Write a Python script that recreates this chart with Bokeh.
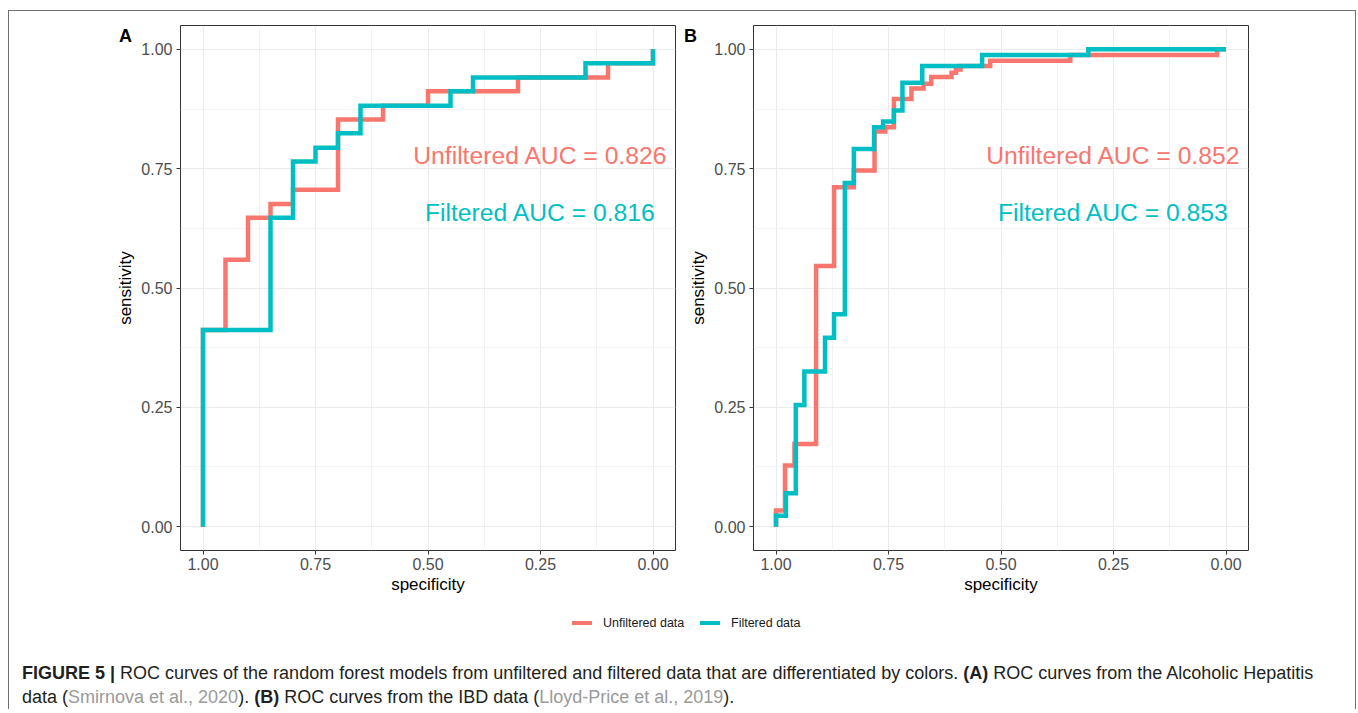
from bokeh.plotting import figure
from bokeh.models import Range1d, FixedTicker, PrintfTickFormatter, Label, Div
from bokeh.layouts import column, row
from bokeh.embed import file_html
from bokeh.resources import INLINE

RED = "#F8766D"
CYAN = "#00BFC4"
FONT = "Liberation Sans"

TICKS = [0.0, 0.25, 0.5, 0.75, 1.0]
MINOR = [0.125, 0.375, 0.625, 0.875]

# Panel A (Alcoholic Hepatitis) ROC coordinates
A_UNF_SPEC = [1.00, 1.00, 0.95, 0.95, 0.90, 0.90, 0.85, 0.85, 0.80, 0.80, 0.70, 0.70,
              0.60, 0.60, 0.50, 0.50, 0.30, 0.30, 0.10, 0.10, 0.00, 0.00]
A_UNF_SENS = [0.000, 0.412, 0.412, 0.559, 0.559, 0.647, 0.647, 0.676, 0.676, 0.706, 0.706, 0.853,
              0.853, 0.882, 0.882, 0.912, 0.912, 0.941, 0.941, 0.971, 0.971, 1.000]
A_FIL_SPEC = [1.00, 1.00, 0.85, 0.85, 0.80, 0.80, 0.75, 0.75, 0.70, 0.70,
              0.65, 0.65, 0.45, 0.45, 0.40, 0.40, 0.15, 0.15, 0.00, 0.00]
A_FIL_SENS = [0.000, 0.412, 0.412, 0.647, 0.647, 0.765, 0.765, 0.794, 0.794, 0.824,
              0.824, 0.882, 0.882, 0.912, 0.912, 0.941, 0.941, 0.971, 0.971, 1.000]

# Panel B (IBD) ROC coordinates
B_UNF_SPEC = [1.000, 1.000, 0.980, 0.980, 0.959, 0.959, 0.911, 0.911, 0.871, 0.871,
              0.827, 0.827, 0.781, 0.781, 0.757, 0.757, 0.738, 0.738, 0.699, 0.699,
              0.672, 0.672, 0.655, 0.655, 0.610, 0.610, 0.600, 0.600, 0.590, 0.590,
              0.524, 0.524, 0.346, 0.346, 0.020, 0.020, 0.000]
B_UNF_SENS = [0.000, 0.034, 0.034, 0.128, 0.128, 0.173, 0.173, 0.546, 0.546, 0.711,
              0.711, 0.746, 0.746, 0.828, 0.828, 0.837, 0.837, 0.896, 0.896, 0.918,
              0.918, 0.928, 0.928, 0.942, 0.942, 0.951, 0.951, 0.958, 0.958, 0.965,
              0.965, 0.976, 0.976, 0.988, 0.988, 1.000, 1.000]
B_FIL_SPEC = [1.000, 1.000, 0.978, 0.978, 0.956, 0.956, 0.937, 0.937, 0.891, 0.891,
              0.871, 0.871, 0.847, 0.847, 0.827, 0.827, 0.782, 0.782, 0.762, 0.762,
              0.738, 0.738, 0.719, 0.719, 0.675, 0.675, 0.542, 0.542, 0.306, 0.306, 0.000]
B_FIL_SENS = [0.000, 0.023, 0.023, 0.070, 0.070, 0.255, 0.255, 0.325, 0.325, 0.396,
              0.396, 0.445, 0.445, 0.720, 0.720, 0.791, 0.791, 0.837, 0.837, 0.849,
              0.849, 0.872, 0.872, 0.930, 0.930, 0.965, 0.965, 0.988, 0.988, 1.000, 1.000]

AUC_A = ["0.826", "0.816"]
AUC_B = ["0.852", "0.853"]
SERIES = ["Unfiltered data", "Filtered data"]
PANELS = ["A", "B"]


def make_panel(unf_spec, unf_sens, fil_spec, fil_sens, aucs, width, left, right):
    p = figure(width=width, height=587,
               x_range=Range1d(1.05, -0.05), y_range=Range1d(-0.05, 1.05),
               output_backend="svg", toolbar_location=None,
               min_border_left=left, min_border_right=right,
               min_border_top=14, min_border_bottom=48)
    p.background_fill_color = "white"
    p.border_fill_color = "white"
    p.outline_line_color = "#333333"
    p.outline_line_width = 1

    for ax in (p.xaxis[0], p.yaxis[0]):
        ax.ticker = FixedTicker(ticks=TICKS, minor_ticks=MINOR)
        ax.formatter = PrintfTickFormatter(format="%.2f")
        ax.axis_line_color = None
        ax.major_tick_line_color = "#333333"
        ax.major_tick_out = 4
        ax.major_tick_in = 0
        ax.minor_tick_line_color = None
        ax.major_label_text_font = FONT
        ax.major_label_text_font_size = "16px"
        ax.major_label_text_color = "#4D4D4D"
        ax.axis_label_text_font = FONT
        ax.axis_label_text_font_size = "17px"
        ax.axis_label_text_font_style = "normal"
        ax.axis_label_text_color = "black"
    p.xaxis.axis_label = "specificity"
    p.yaxis.axis_label = "sensitivity"
    p.xaxis.major_label_standoff = 3
    p.xaxis.axis_label_standoff = 2
    p.yaxis.major_label_standoff = 4
    p.yaxis.axis_label_standoff = 3

    for g in (p.xgrid[0], p.ygrid[0]):
        g.grid_line_color = "#EBEBEB"
        g.grid_line_width = 1.1
        g.minor_grid_line_color = "#F3F3F3"
        g.minor_grid_line_width = 1

    p.line(unf_spec, unf_sens, line_color=RED, line_width=4.5, line_join="miter")
    p.line(fil_spec, fil_sens, line_color=CYAN, line_width=4.5, line_join="miter")

    p.add_layout(Label(x=0.25, y=0.777, text="Unfiltered AUC = " + aucs[0],
                       text_font=FONT, text_font_size="24.7px", text_color=RED,
                       text_align="center", text_baseline="middle"))
    p.add_layout(Label(x=0.25, y=0.658, text="Filtered AUC = " + aucs[1],
                       text_font=FONT, text_font_size="24.7px", text_color=CYAN,
                       text_align="center", text_baseline="middle"))
    return p


pA = make_panel(A_UNF_SPEC, A_UNF_SENS, A_FIL_SPEC, A_FIL_SENS, AUC_A, 671, 171, 5)
pB = make_panel(B_UNF_SPEC, B_UNF_SENS, B_FIL_SPEC, B_FIL_SENS, AUC_B, 675, 73, 107)

letter_style = ("position:absolute;top:-571px;font-size:18px;line-height:18px;font-weight:bold;"
                "color:#000;z-index:10;")
legend_html = (
    '<div style="position:relative;width:1346px;height:45px;font-family:\'Liberation Sans\',Arial;'
    'font-size:12.5px;color:#1a1a1a;overflow:visible;">'
    '<span style="%sleft:110px;">%s</span>'
    '<span style="%sleft:675px;">%s</span>'
    '<span style="position:absolute;left:563px;top:23px;width:20px;height:4px;background:%s;"></span>'
    '<span style="position:absolute;left:594px;top:18px;line-height:14px;white-space:nowrap;">%s</span>'
    '<span style="position:absolute;left:691px;top:23px;width:20px;height:4px;background:%s;"></span>'
    '<span style="position:absolute;left:722px;top:18px;line-height:14px;white-space:nowrap;">%s</span>'
    '</div>' % (letter_style, PANELS[0], letter_style, PANELS[1], RED, SERIES[0], CYAN, SERIES[1])
)
legend_div = Div(text=legend_html, width=1346, height=45, margin=0,
                 styles={"overflow": "visible", "z-index": "10"})

caption_html = (
    '<div style="font-family:\'Liberation Sans\',Arial;font-size:18px;line-height:24px;'
    'color:#231F20;white-space:nowrap;padding-left:13px;padding-top:18px;">'
    '<b>FIGURE 5 |</b> ROC curves of the random forest models from unfiltered and filtered data '
    'that are differentiated by colors. <b>(A)</b> ROC curves from the Alcoholic Hepatitis<br>'
    'data (<span style="color:#9a9a9a;">Smirnova et al., 2020</span>). <b>(B)</b> ROC curves from '
    'the IBD data (<span style="color:#9a9a9a;">Lloyd-Price et al., 2019</span>).'
    '</div>'
)
caption_div = Div(text=caption_html, width=1346, height=66, margin=0)

layout = column(
    row(pA, pB),
    legend_div,
    caption_div,
    styles={"margin-left": "8px", "margin-top": "10px",
            "border-top": "1px solid #707070",
            "border-left": "1px solid #707070",
            "border-right": "1px solid #707070"},
)

open("out.html", "w").write(file_html(layout, INLINE))
